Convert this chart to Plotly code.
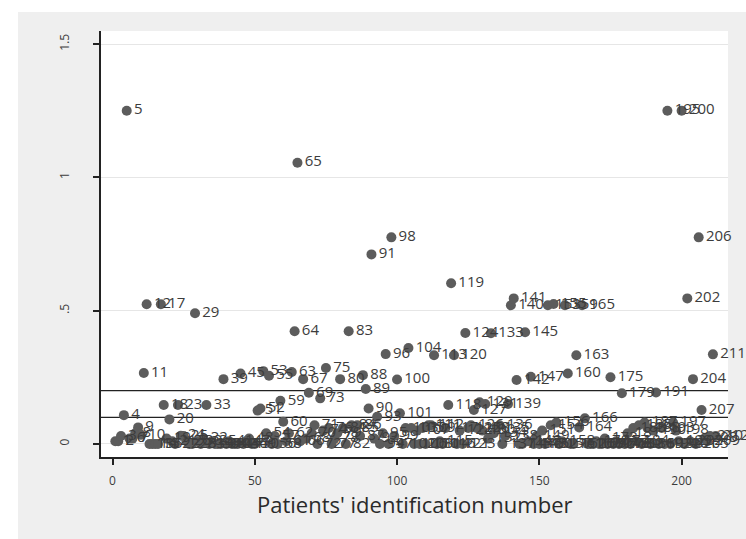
import plotly.graph_objects as go

# Patient ids and the measured value for each patient
patient_ids = list(range(1, 213))
values = [
    0.01, 0.01, 0.03, 0.108, 1.25, 0.02, 0.02, 0.04, 0.062, 0.034,      # 1-10
    0.266, 0.524, 0.0, 0.0, 0.0, 0.0, 0.524, 0.146, 0.02, 0.092,        # 11-20
    0.01, 0.0, 0.146, 0.031, 0.03, 0.01, 0.0, 0.0, 0.49, 0.01,          # 21-30
    0.0, 0.02, 0.146, 0.0, 0.01, 0.0, 0.0, 0.0, 0.243, 0.0,             # 31-40
    0.01, 0.0, 0.0, 0.0, 0.264, 0.0, 0.01, 0.02, 0.0, 0.0,              # 41-50
    0.125, 0.133, 0.273, 0.04, 0.256, 0.0, 0.03, 0.0, 0.162, 0.083,     # 51-60
    0.01, 0.04, 0.27, 0.423, 1.055, 0.01, 0.243, 0.02, 0.192, 0.04,     # 61-70
    0.07, 0.0, 0.171, 0.05, 0.285, 0.06, 0.0, 0.02, 0.04, 0.243,        # 71-80
    0.06, 0.0, 0.423, 0.07, 0.06, 0.07, 0.03, 0.258, 0.206, 0.133,      # 81-90
    0.711, 0.02, 0.102, 0.0, 0.04, 0.337, 0.0, 0.775, 0.03, 0.242,      # 91-100
    0.115, 0.0, 0.06, 0.36, 0.06, 0.0, 0.05, 0.0, 0.06, 0.0,            # 101-110
    0.07, 0.07, 0.333, 0.0, 0.01, 0.0, 0.06, 0.146, 0.603, 0.333,       # 111-120
    0.0, 0.05, 0.0, 0.416, 0.06, 0.07, 0.127, 0.06, 0.156, 0.05,        # 121-130
    0.15, 0.02, 0.415, 0.04, 0.06, 0.07, 0.0, 0.03, 0.15, 0.52,         # 131-140
    0.546, 0.24, 0.0, 0.0, 0.419, 0.01, 0.252, 0.0, 0.03, 0.0,          # 141-150
    0.05, 0.0, 0.52, 0.07, 0.525, 0.08, 0.0, 0.01, 0.52, 0.264,         # 151-160
    0.0, 0.0, 0.333, 0.062, 0.52, 0.096, 0.0, 0.0, 0.0, 0.01,           # 161-170
    0.0, 0.0, 0.02, 0.0, 0.25, 0.0, 0.01, 0.0, 0.19, 0.0,               # 171-180
    0.04, 0.0, 0.06, 0.01, 0.07, 0.0, 0.08, 0.06, 0.0, 0.05,            # 181-190
    0.193, 0.0, 0.06, 0.0, 1.25, 0.0, 0.08, 0.05, 0.01, 1.25,           # 191-200
    0.0, 0.546, 0.01, 0.243, 0.0, 0.775, 0.127, 0.02, 0.01, 0.03,       # 201-210
    0.336, 0.03,                                                        # 211-212
]
point_labels = [str(i) for i in patient_ids]

# Reference thresholds drawn as horizontal lines
thresholds = [0.1, 0.2]

y_tickvals = [0, 0.5, 1, 1.5]
y_ticktext = ["0", ".5", "1", "1.5"]
x_tickvals = [0, 50, 100, 150, 200]

fig = go.Figure()
fig.add_trace(go.Scatter(
    x=patient_ids, y=values, mode="markers+text",
    text=point_labels, textposition="middle right",
    textfont=dict(family="Open Sans", size=15, color="#3c3c3c"),
    marker=dict(size=10, color="#5c5c5c"),
    cliponaxis=False, showlegend=False,
))

shapes = [
    # graph region background
    dict(type="rect", xref="paper", yref="paper", x0=-0.1324, x1=1.03,
         y0=-0.2, y1=1.0446, fillcolor="#efefef", line=dict(width=0), layer="below"),
    # plot region
    dict(type="rect", xref="paper", yref="paper", x0=0, x1=1, y0=0, y1=1,
         fillcolor="white", line=dict(width=0), layer="below"),
]
for t in thresholds:
    shapes.append(dict(type="line", xref="paper", yref="y", x0=0, x1=1, y0=t, y1=t,
                       line=dict(color="#222222", width=1.2), layer="below"))

fig.update_layout(
    width=746, height=539,
    margin=dict(l=101, r=18, t=31, b=82),
    paper_bgcolor="white", plot_bgcolor="white",
    shapes=shapes,
    annotations=[dict(
        text="Patients' identification number", xref="paper", yref="paper",
        x=0.5, y=-0.11, xanchor="center", yanchor="middle", showarrow=False,
        font=dict(family="Open Sans", size=22, color="#2a2a2a"),
    )],
)
fig.update_xaxes(
    range=[-4.04, 216.3], tickvals=x_tickvals, showgrid=False, zeroline=False,
    showline=True, linecolor="#222222", linewidth=2,
    ticks="outside", ticklen=6, tickcolor="#222222", tickwidth=1.5,
    tickfont=dict(family="Open Sans", size=12, color="#3c3c3c"),
    ticklabelstandoff=6,
)
fig.update_yaxes(
    range=[-0.049, 1.549], tickvals=y_tickvals, ticktext=y_ticktext, tickangle=-90,
    showgrid=True, gridcolor="#e6e6e6", gridwidth=1, zeroline=False,
    showline=True, linecolor="#222222", linewidth=1.5,
    ticks="outside", ticklen=6, tickcolor="#222222", tickwidth=1.5,
    tickfont=dict(family="Open Sans", size=12, color="#3c3c3c"),
    ticklabelstandoff=19,
)

fig.write_html("out.html")
